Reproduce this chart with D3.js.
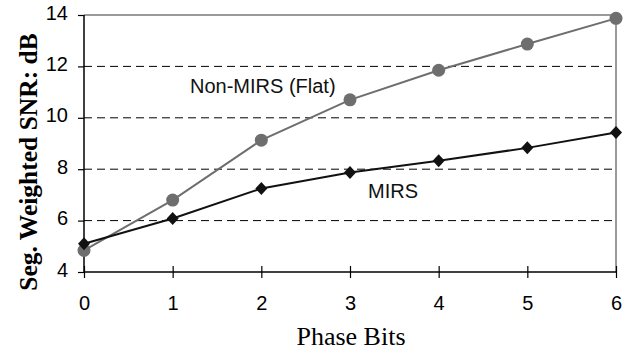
<!DOCTYPE html>
<html><head><meta charset="utf-8">
<script src="https://cdn.jsdelivr.net/npm/d3@7"></script>
<style>body{margin:0;background:#fff}svg{display:block}</style>
</head><body>
<svg id="c" width="635" height="354"></svg>
<script>
const phaseBits = [0, 1, 2, 3, 4, 5, 6];
const nonMirs = [4.84, 6.8, 9.13, 10.7, 11.85, 12.87, 13.87];
const mirs = [5.1, 6.08, 7.25, 7.87, 8.33, 8.83, 9.43];
const yTicks = [4, 6, 8, 10, 12, 14];
const xTicks = [0, 1, 2, 3, 4, 5, 6];
const seriesNames = ["Non-MIRS (Flat)", "MIRS"];

const svg = d3.select("#c");
const L = 84, R = 616, T = 15, B = 272;
const x = d3.scaleLinear().domain([0, 6]).range([L, R]);
const y = d3.scaleLinear().domain([4, 14]).range([B, T]);
const sans = "Liberation Sans, Arial, sans-serif";

// gridlines
svg.append("g").selectAll("line").data(yTicks.filter(v => v > 4 && v < 14)).join("line")
  .attr("x1", L).attr("x2", R).attr("y1", d => y(d)).attr("y2", d => y(d))
  .attr("stroke", "#000").attr("stroke-width", 1).attr("stroke-dasharray", "8,5");

// frame top/right
svg.append("line").attr("x1", L).attr("x2", R).attr("y1", T).attr("y2", T)
  .attr("stroke", "#9a9a9a").attr("stroke-width", 2);
svg.append("line").attr("x1", R).attr("x2", R).attr("y1", T).attr("y2", B)
  .attr("stroke", "#9a9a9a").attr("stroke-width", 2);

// y axis
const yAxis = svg.append("g").attr("transform", `translate(${L},0)`)
  .call(d3.axisLeft(y).tickValues(yTicks).tickSize(6).tickPadding(10).tickFormat(d3.format("d")));
yAxis.select(".domain").attr("stroke", "#000").attr("stroke-width", 1.5).attr("d", `M0,${T}V${B}`);
yAxis.selectAll(".tick line").attr("stroke", "#000").attr("stroke-width", 1.2);
yAxis.selectAll("text").attr("font-family", sans)
  .attr("font-size", 20).attr("fill", "#000").attr("dy", 0).attr("y", 4).attr("x", -16);

// x axis
const xAxis = svg.append("g").attr("transform", `translate(0,${B})`)
  .call(d3.axisBottom(x).tickValues(xTicks).tickSize(6).tickPadding(20).tickFormat(d3.format("d")));
xAxis.select(".domain").attr("stroke", "#000").attr("stroke-width", 1.5).attr("d", `M${L},0H${R}`);
xAxis.selectAll(".tick line").attr("stroke", "#000").attr("stroke-width", 1.2).attr("y1", -6).attr("y2", 6);
xAxis.selectAll("text").attr("font-family", sans)
  .attr("font-size", 20).attr("fill", "#000").attr("y", 38).attr("dy", 0);

const line = d3.line().x((d, i) => x(phaseBits[i])).y(d => y(d));

// Non-MIRS series
svg.append("path").datum(nonMirs).attr("d", line).attr("fill", "none")
  .attr("stroke", "#6e6e6e").attr("stroke-width", 2);
// MIRS series
svg.append("path").datum(mirs).attr("d", line).attr("fill", "none")
  .attr("stroke", "#111").attr("stroke-width", 2);

svg.append("g").selectAll("circle").data(nonMirs).join("circle")
  .attr("cx", (d, i) => x(phaseBits[i])).attr("cy", d => y(d)).attr("r", 6.5)
  .attr("fill", "#6e6e6e");

svg.append("g").selectAll("path").data(mirs).join("path")
  .attr("transform", (d, i) => `translate(${x(phaseBits[i])},${y(d)})`)
  .attr("d", "M0,-6.5L6,0L0,6.5L-6,0Z").attr("fill", "#111");

// series labels
svg.append("text").attr("x", 190).attr("y", 93).text(seriesNames[0])
  .attr("font-family", sans).attr("font-size", 20).attr("fill", "#111");
svg.append("text").attr("x", 368).attr("y", 198).text(seriesNames[1])
  .attr("font-family", sans).attr("font-size", 20).attr("fill", "#111");

// axis titles
svg.append("text").attr("x", 351).attr("y", 345).attr("text-anchor", "middle")
  .attr("font-family", "Liberation Serif, Times New Roman, serif").attr("font-size", 26)
  .attr("fill", "#000").text("Phase Bits");
svg.append("text").attr("transform", `translate(37,${(32 + 292) / 2}) rotate(-90)`)
  .attr("text-anchor", "middle")
  .attr("font-family", "Liberation Serif, Times New Roman, serif").attr("font-size", 25.5)
  .attr("font-weight", "bold").attr("fill", "#000").text("Seg. Weighted SNR: dB");
</script>
</body></html>
